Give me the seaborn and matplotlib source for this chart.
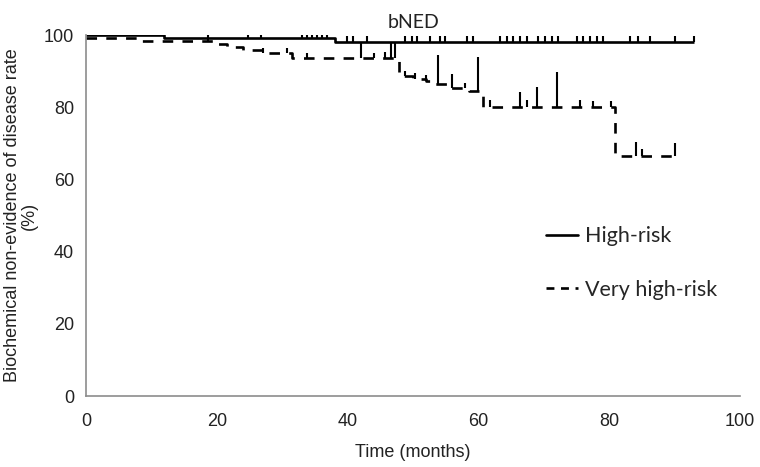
import numpy as np
import pandas as pd
import seaborn as sb
import matplotlib
import matplotlib.pyplot as plt
from matplotlib.lines import Line2D
plt.switch_backend('Agg')

sb.set_style("white")
matplotlib.rcParams['font.family'] = ["Liberation Sans", "DejaVu Sans"]

# High-risk: step times (months) and survival (%)
hr_time = [0, 12, 38, 93]
hr_surv = [100, 99.3, 98.1, 98.1]
hr_censor = [24.8, 26.8, 33, 33.8, 34.5, 35.3, 36.1, 36.8, 39.9, 40.8, 43,
             48.8, 49.8, 50.6, 52.6, 54.1, 54.9, 58.2, 59.2, 63.3, 64.4, 65.3,
             66.4, 67.4, 69.1, 70.2, 71.3, 72.2, 75.1, 76, 77, 78.1, 79, 83.2,
             84.3, 86.2, 90.1, 93]

# Very high-risk
vhr_time = [0, 8.6, 19.5, 21.5, 24, 27, 31.5, 47.8, 50, 52, 53, 55.5, 58.5,
            60.7, 80.9, 90]
vhr_surv = [99.3, 98.3, 97.6, 96.8, 95.8, 94.9, 93.6, 88.6, 87.9, 87.3, 86.5,
            85.2, 84.5, 80.1, 66.5, 66.5]
vhr_censor = [18.7, 27, 30.7, 33.8, 42, 44, 45.7, 46.6, 47.3, 48.8, 50.3, 52,
              53.8, 56, 58, 60, 61.8, 66.4, 67.4, 69, 72, 75.5, 77.5, 80.3,
              84, 85, 90]
vhr_censor_top = [100.3, 96.5, 95, 95, 98.1, 95, 95.2, 98.1, 98.1, 89.8, 89.5,
                  89, 94.5, 89.3, 86.5, 94, 82, 84.3, 82, 85.7, 89.8, 82, 81.8,
                  81.8, 70.4, 68.5, 70]


def level(times, surv, t):
    idx = np.searchsorted(times, t, side="right") - 1
    return np.array(surv)[idx]


df = pd.concat([
    pd.DataFrame({"time": hr_time, "surv": hr_surv, "group": "High-risk"}),
    pd.DataFrame({"time": vhr_time, "surv": vhr_surv, "group": "Very high-risk"}),
])

fig = plt.figure(figsize=(7.6, 4.67), dpi=100)
ax = fig.add_axes([0.113, 0.152, 0.861, 0.773])

sb.lineplot(data=df, x="time", y="surv", hue="group", style="group",
            palette=["black", "black"], dashes=[(1, 0), (4, 3.5)],
            drawstyle="steps-post", linewidth=1.9, estimator=None,
            legend=False, ax=ax)

hr_base = level(hr_time, hr_surv, hr_censor)
ax.vlines(hr_censor, hr_base, hr_base + 1.5, color="black", lw=1.5)
vhr_base = level(vhr_time, vhr_surv, vhr_censor)
ax.vlines(vhr_censor, vhr_base, np.maximum(vhr_censor_top, vhr_base + 1.5),
          color="black", lw=1.5)

ax.set_xlim(0, 100)
ax.set_ylim(0, 100)
ax.set_xticks(range(0, 101, 20))
ax.set_yticks(range(0, 101, 20))
for s in ["top", "right"]:
    ax.spines[s].set_visible(False)
for s in ["left", "bottom"]:
    ax.spines[s].set_color("#8c8c8c")
    ax.spines[s].set_linewidth(1.2)
ax.tick_params(axis="both", length=5, width=1.2, color="#8c8c8c",
               labelsize=13, labelcolor="#222222", direction="out")
ax.tick_params(axis="x", pad=7)

ax.set_xlabel("Time (months)", fontsize=13, labelpad=10, color="#222222")
ax.set_ylabel("Biochemical non-evidence of disease rate\n(%)", fontsize=13,
              labelpad=4, color="#222222", linespacing=1.0)
ax.set_title("bNED", fontsize=14, pad=5, family=["Lato", "DejaVu Sans"],
             color="#222222")

handles = [Line2D([], [], color="black", lw=1.9),
           Line2D([], [], color="black", lw=1.9, dashes=(3, 2.5))]
ax.legend(handles, ["High-risk", "Very high-risk"], loc="upper left",
          bbox_to_anchor=(0.703, 0.47), frameon=False, borderpad=0,
          borderaxespad=0, handlelength=1.5, handletextpad=0.3,
          labelspacing=1.55, prop={"family": ["Lato", "DejaVu Sans"], "size": 15.5})

plt.savefig("out.png", dpi=100)
